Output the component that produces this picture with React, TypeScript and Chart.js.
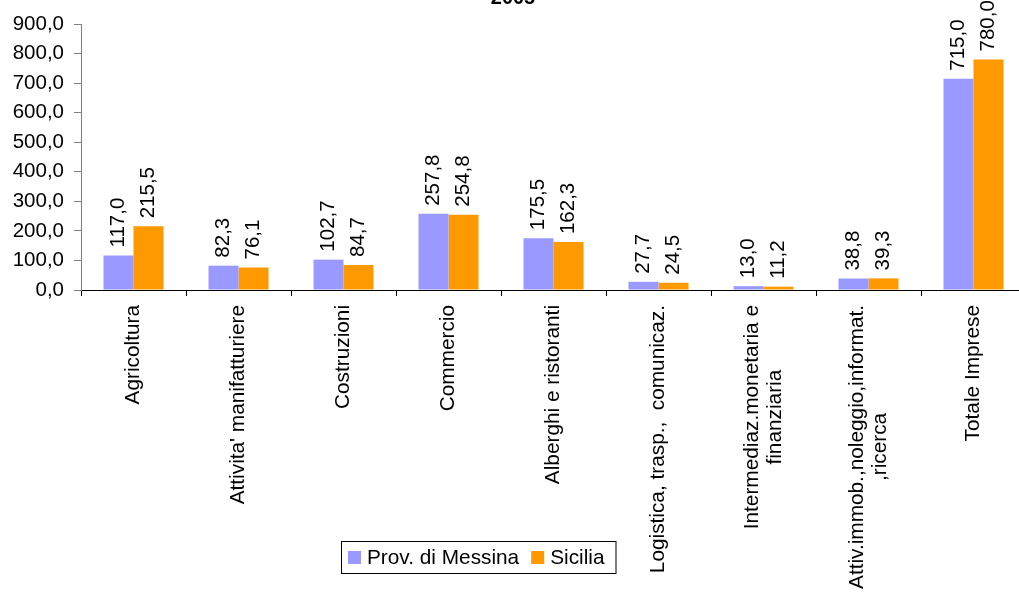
import React, { useEffect, useRef } from 'react';
import { Chart, registerables } from 'chart.js';

Chart.register(...registerables);

const titleText = '2005';
const categories: (string | string[])[] = [
  'Agricoltura',
  "Attivita' manifatturiere",
  'Costruzioni',
  'Commercio',
  'Alberghi e ristoranti',
  'Logistica, trasp.,  comunicaz.',
  ['Intermediaz.monetaria e', 'finanziaria'],
  ['Attiv.immob.,noleggio,informat.', ',ricerca'],
  'Totale Imprese',
];
const messina = [117.0, 82.3, 102.7, 257.8, 175.5, 27.7, 13.0, 38.8, 715.0];
const sicilia = [215.5, 76.1, 84.7, 254.8, 162.3, 24.5, 11.2, 39.3, 780.0];
const seriesNames = ['Prov. di Messina', 'Sicilia'];
const seriesColors = ['#9999FF', '#FF9900'];
const yMin = 0;
const yMax = 900;
const yStep = 100;

const FONT = '"Liberation Sans", Arial, sans-serif';
const FS = 20.5;
const FSX = 20.8;

const fmt = (v: number) => v.toFixed(1).replace('.', ',');

const dataLabelPlugin = {
  id: 'dataLabels',
  afterDatasetsDraw(chart: any) {
    const ctx = chart.ctx;
    ctx.save();
    ctx.font = `${FS}px ${FONT}`;
    ctx.fillStyle = '#000';
    ctx.textAlign = 'left';
    ctx.textBaseline = 'middle';
    chart.data.datasets.forEach((ds: any, di: number) => {
      const meta = chart.getDatasetMeta(di);
      meta.data.forEach((el: any, i: number) => {
        ctx.save();
        ctx.translate(el.x, el.y - 8);
        ctx.rotate(-Math.PI / 2);
        ctx.fillText(fmt(ds.data[i]), 0, 0);
        ctx.restore();
      });
    });
    ctx.restore();
  },
};

const xLabelPlugin = {
  id: 'xLabels',
  afterDraw(chart: any) {
    const ctx = chart.ctx;
    const xs = chart.scales.x;
    const top = chart.chartArea.bottom + 15;
    const lh = 23;
    ctx.save();
    ctx.font = `${FSX}px ${FONT}`;
    ctx.fillStyle = '#000';
    ctx.textBaseline = 'middle';
    ctx.textAlign = 'center';
    chart.data.labels.forEach((lab: any, i: number) => {
      const lines: string[] = Array.isArray(lab) ? lab : [lab];
      const maxW = Math.max(...lines.map((l) => ctx.measureText(l).width));
      const cx = xs.getPixelForValue(i);
      ctx.save();
      ctx.translate(cx, top);
      ctx.rotate(-Math.PI / 2);
      lines.forEach((l, j) => {
        ctx.fillText(l, -maxW / 2, (j - (lines.length - 1) / 2) * lh);
      });
      ctx.restore();
    });
    ctx.restore();
  },
};

const legendPlugin = {
  id: 'boxLegend',
  afterDraw(chart: any) {
    const ctx = chart.ctx;
    const left = chart.chartArea.left + 260;
    const top = chart.chartArea.bottom + 251;
    const h = 32;
    ctx.save();
    ctx.font = `${FSX}px ${FONT}`;
    ctx.textBaseline = 'middle';
    ctx.textAlign = 'left';
    let x = left + 7;
    const items: { color: string; text: string; x: number; tx: number }[] = [];
    chart.data.datasets.forEach((ds: any, i: number) => {
      const sx = x;
      const tx = sx + 13 + 6;
      const w = ctx.measureText(ds.label).width;
      items.push({ color: ds.backgroundColor, text: ds.label, x: sx, tx });
      x = tx + w + (i < chart.data.datasets.length - 1 ? 12 : 11);
    });
    const width = x - left;
    ctx.fillStyle = '#fff';
    ctx.fillRect(left, top, width, h);
    ctx.strokeStyle = '#000';
    ctx.lineWidth = 1;
    ctx.strokeRect(left + 0.5, top + 0.5, width, h);
    items.forEach((it) => {
      ctx.fillStyle = it.color;
      ctx.fillRect(it.x, top + h / 2 - 6, 13, 13);
      ctx.fillStyle = '#000';
      ctx.fillText(it.text, it.tx, top + h / 2 + 1);
    });
    ctx.restore();
  },
};

export default function App() {
  const ref = useRef<HTMLCanvasElement | null>(null);
  useEffect(() => {
    if (!ref.current) return;
    const chart = new Chart(ref.current, {
      type: 'bar',
      data: {
        labels: categories,
        datasets: [
          { label: seriesNames[0], data: messina, backgroundColor: seriesColors[0], borderWidth: 0 },
          { label: seriesNames[1], data: sicilia, backgroundColor: seriesColors[1], borderWidth: 0 },
        ],
      },
      options: {
        responsive: false,
        animation: false,
        devicePixelRatio: 1,
        categoryPercentage: 60 / 105,
        barPercentage: 1,
        layout: { padding: { left: 0, right: 14, top: 6, bottom: 287 } },
        font: { family: FONT, size: FS },
        plugins: {
          legend: { display: false },
          tooltip: { enabled: false },
          title: {
            display: true,
            text: titleText,
            color: '#000',
            font: { family: FONT, size: 20, weight: 'bold', lineHeight: 1.2 },
            padding: { top: 0, bottom: 14 },
          },
        },
        scales: {
          x: {
            offset: true,
            grid: {
              offset: true,
              drawOnChartArea: false,
              drawTicks: true,
              tickLength: 6,
              color: '#000',
            },
            border: { color: '#000', width: 1 },
            ticks: { display: false },
            afterFit: (s: any) => {
              s.height = 15;
            },
          },
          y: {
            min: yMin,
            max: yMax,
            grid: {
              drawOnChartArea: false,
              drawTicks: true,
              tickLength: 7,
              color: '#808080',
            },
            border: { color: '#808080', width: 1 },
            ticks: {
              stepSize: yStep,
              color: '#000',
              padding: 10,
              font: { family: FONT, size: FS },
              callback: (v: any) => fmt(Number(v)),
            },
            afterFit: (s: any) => {
              s.width = 81;
            },
          },
        },
      },
      plugins: [dataLabelPlugin, xLabelPlugin, legendPlugin],
    });
    return () => chart.destroy();
  }, []);

  return (
    <div
      style={{
        position: 'absolute',
        left: 0,
        top: 0,
        width: 1019,
        height: 592,
        overflow: 'hidden',
        background: '#fff',
      }}
    >
      <canvas
        ref={ref}
        width={1040}
        height={612}
        style={{ position: 'absolute', left: 0, top: -20, display: 'block' }}
      />
    </div>
  );
}
